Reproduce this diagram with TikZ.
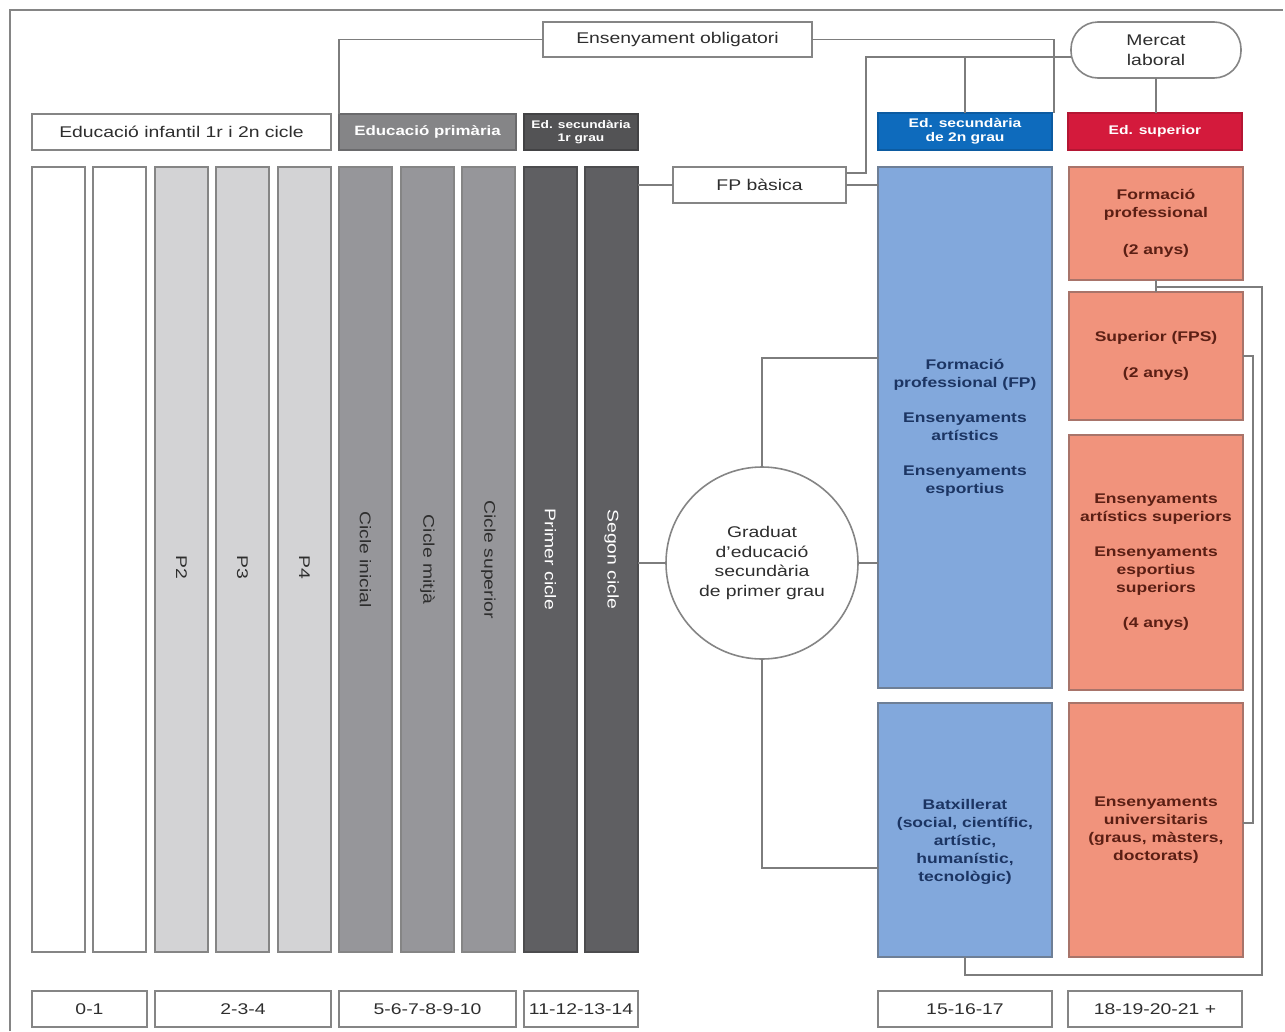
\documentclass[tikz,border=0pt]{standalone}
\usepackage{fontspec}
\setmainfont{Liberation Sans}[FakeStretch=1.25]
\usetikzlibrary{calc}
\definecolor{lineg}{HTML}{858585}
\definecolor{conng}{HTML}{7d7d7d}
\definecolor{txtg}{HTML}{2e2e2e}
\definecolor{lgray}{HTML}{D3D3D5}
\definecolor{mgray}{HTML}{96969A}
\definecolor{dgray}{HTML}{5F5F62}
\definecolor{hprim}{HTML}{858587}
\definecolor{hsec}{HTML}{535355}
\definecolor{hblue}{HTML}{0E6BBD}
\definecolor{hred}{HTML}{D41A3C}
\definecolor{lblue}{HTML}{82A8DC}
\definecolor{salmon}{HTML}{F1937C}
\definecolor{navy}{HTML}{1C3563}
\definecolor{dred}{HTML}{5B1F14}
\definecolor{blueb}{HTML}{6E7F96}
\definecolor{salb}{HTML}{A8746A}
\newcommand{\fs}[2]{\fontsize{#1}{#2}\selectfont}
\tikzset{
  every node/.style={inner sep=0pt, outer sep=0pt},
  bx/.style={draw=lineg, line width=1.6pt, anchor=north west},
  col/.style={bx, minimum width=53pt, minimum height=785pt},
  txt/.style={font=\fs{15.5}{19.5}, text=txtg, align=center},
  rot/.style={font=\fs{15.5}{19.5}, rotate=-90},
  btxt/.style={font=\bfseries\fs{14}{18}, align=center},
  conn/.style={draw=conng, line width=1.8pt},
  frame/.style={draw=lineg, line width=2pt}
}
\begin{document}
\begin{tikzpicture}[x=1pt,y=-1pt]
\useasboundingbox (0,0) rectangle (1285,1031);
% frame
\draw[frame] (10,1031) -- (10,10) -- (1283,10);

% top boxes
\node[bx, fill=white, minimum width=269pt, minimum height=35pt, txt] (obl) at (543,22) {Ensenyament obligatori};
\node[draw=lineg, line width=1.6pt, rounded corners=27pt, fill=white, minimum width=170pt, minimum height=56pt, anchor=north west, txt] (mercat) at (1071,22) {Mercat\\laboral};

% headers
\node[bx, fill=white, minimum width=299pt, minimum height=36pt, txt] (h1) at (32,114) {Educació infantil 1r i 2n cicle};
\node[bx, fill=hprim, draw=hprim!80!black, minimum width=177pt, minimum height=36pt, font=\bfseries\fs{13.5}{16}, text=white] (h2) at (339,114) {Educació primària};
\node[bx, fill=hsec, draw=hsec!80!black, minimum width=114pt, minimum height=36pt, font=\bfseries\fs{11}{12.5}, text=white, align=center] (h3) at (524,114) {Ed. secundària\\1r grau};
\node[bx, fill=hblue, draw=hblue!85!black, minimum width=174pt, minimum height=37pt, font=\bfseries\fs{12.5}{14}, text=white, align=center] (h4) at (878,113) {Ed. secundària\\de 2n grau};
\node[bx, fill=hred, draw=hred!85!black, minimum width=174pt, minimum height=37pt, font=\bfseries\fs{12.5}{14}, text=white] (h5) at (1068,113) {Ed. superior};

% columns
\node[col, fill=white] (c1) at (32,167) {};
\node[col, fill=white] (c2) at (93,167) {};
\node[col, fill=lgray] (c3) at (155,167) {};
\node[col, fill=lgray] (c4) at (216,167) {};
\node[col, fill=lgray] (c5) at (278,167) {};
\node[col, fill=mgray] (c6) at (339,167) {};
\node[col, fill=mgray] (c7) at (401,167) {};
\node[col, fill=mgray] (c8) at (462,167) {};
\node[col, fill=dgray, draw=dgray!80!black] (c9) at (524,167) {};
\node[col, fill=dgray, draw=dgray!80!black] (c10) at (585,167) {};

\node[rot, text=txtg] (l3) at ([yshift=-8pt]c3.center) {P2};
\node[rot, text=txtg] (l4) at ([yshift=-8pt]c4.center) {P3};
\node[rot, text=txtg] (l5) at ([yshift=-8pt]c5.center) {P4};
\node[rot, text=txtg] (l6) at (c6.center) {Cicle inicial};
\node[rot, text=txtg] (l7) at (c7.center) {Cicle mitjà};
\node[rot, text=txtg] (l8) at (c8.center) {Cicle superior};
\node[rot, text=white] (l9) at (c9.center) {Primer cicle};
\node[rot, text=white] (l10) at (c10.center) {Segon cicle};

% FP basica
\node[bx, fill=white, minimum width=173pt, minimum height=36pt, txt] (fp) at (673,167) {FP bàsica};

% circle
\node[draw=lineg, line width=1.6pt, circle, minimum size=192pt, fill=white, txt] (grad) at (762,563) {Graduat\\d'educació\\secundària\\de primer grau};

% blue boxes
\node[bx, fill=lblue, draw=blueb, minimum width=174pt, minimum height=521pt, btxt, text=navy] (bl1) at (878,167) {Formació\\professional (FP)\\[17pt]Ensenyaments\\artístics\\[17pt]Ensenyaments\\esportius};
\node[bx, fill=lblue, draw=blueb, minimum width=174pt, minimum height=254pt] (bl2) at (878,703) {};
\node[btxt, text=navy] (bt2) at ([yshift=-12pt]bl2.center) {Batxillerat\\(social, científic,\\artístic,\\humanístic,\\tecnològic)};

% salmon boxes
\node[bx, fill=salmon, draw=salb, minimum width=174pt, minimum height=113pt, btxt, text=dred] (r1) at (1069,167) {Formació\\professional\\[19pt](2 anys)};
\node[bx, fill=salmon, draw=salb, minimum width=174pt, minimum height=128pt, btxt, text=dred] (r2) at (1069,292) {Superior (FPS)\\[18pt](2 anys)};
\node[bx, fill=salmon, draw=salb, minimum width=174pt, minimum height=255pt, btxt, text=dred] (r3) at (1069,435) {Ensenyaments\\artístics superiors\\[17pt]Ensenyaments\\esportius\\superiors\\[17pt](4 anys)};
\node[bx, fill=salmon, draw=salb, minimum width=174pt, minimum height=254pt, btxt, text=dred] (r4) at (1069,703) {Ensenyaments\\universitaris\\(graus, màsters,\\doctorats)};

% bottom age labels
\node[bx, fill=white, minimum width=115pt, minimum height=36pt, txt] (b1) at (32,991) {0-1};
\node[bx, fill=white, minimum width=176pt, minimum height=36pt, txt] (b2) at (155,991) {2-3-4};
\node[bx, fill=white, minimum width=177pt, minimum height=36pt, txt] (b3) at (339,991) {5-6-7-8-9-10};
\node[bx, fill=white, minimum width=114pt, minimum height=36pt, txt] (b4) at (524,991) {11-12-13-14};
\node[bx, fill=white, minimum width=174pt, minimum height=36pt, txt] (b5) at (878,991) {15-16-17};
\node[bx, fill=white, minimum width=174pt, minimum height=36pt, txt] (b6) at (1068,991) {18-19-20-21 +};

% connectors
\coordinate (jv) at (866,57);
\coordinate (ga) at (762,358);
\coordinate (gb) at (762,868);
\coordinate (ra) at (1156,287);
\coordinate (rb) at (1262,975);
\coordinate (rc) at (1253,356);
\coordinate (rd) at (1253,823);

\draw[conn] (obl.west) -| (h2.north west);
\draw[conn] (obl.east) -| ([xshift=2pt]h4.north east);
\draw[conn] ([yshift=12pt]fp.east) -| (jv) -- ([yshift=-7pt]mercat.west);
\draw[conn] (h4.north) -- (h4.north |- jv);
\draw[conn] (mercat.south) -- (mercat.south |- h5.north);
\draw[conn] (c10.east |- fp.west) -- (fp.west);
\draw[conn] (fp.east) -- (fp.east -| bl1.west);
\draw[conn] (c10.east |- grad.west) -- (grad.west);
\draw[conn] (grad.east) -- (grad.east -| bl1.west);
\draw[conn] (grad.north) -- (ga) -- (ga -| bl1.west);
\draw[conn] (grad.south) -- (gb) -- (gb -| bl2.west);
\draw[conn] (r1.south) -- (r2.north);
\draw[conn] (bl2.south) -- (bl2.south |- rb) -- (rb) -- (rb |- ra) -- (ra);
\draw[conn] (r2.east |- rc) -- (rc) -- (rd) -- (rd -| r4.east);
\end{tikzpicture}
\end{document}
